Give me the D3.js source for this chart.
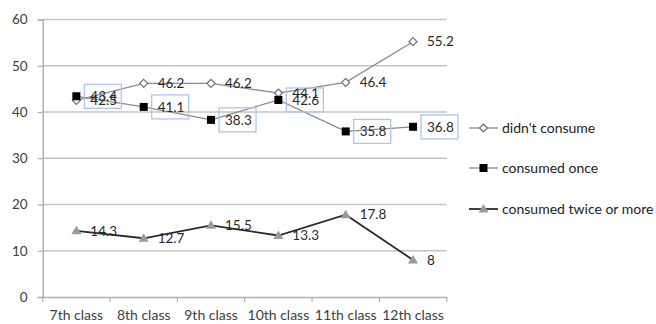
<!DOCTYPE html>
<html>
<head>
<meta charset="utf-8">
<script src="https://cdn.jsdelivr.net/npm/d3@7"></script>
<style>
  html, body { margin: 0; padding: 0; background: #fff; }
  svg text { font-family: Lato, "Open Sans", "Liberation Sans", sans-serif; }
</style>
</head>
<body>
<svg id="chart" width="656" height="324"></svg>
<script>
// Chart data
const categories = ["7th class", "8th class", "9th class", "10th class", "11th class", "12th class"];
const didntConsume = [42.5, 46.2, 46.2, 44.1, 46.4, 55.2];
const consumedOnce = [43.4, 41.1, 38.3, 42.6, 35.8, 36.8];
const consumedTwice = [14.3, 12.7, 15.5, 13.3, 17.8, 8];
const yTicks = [0, 10, 20, 30, 40, 50, 60];
const seriesNames = ["didn't consume", "consumed once", "consumed twice or more"];

const series = [
  { name: seriesNames[0], values: didntConsume, line: "#8c8c8c", lineWidth: 1.3, marker: "diamond", boxed: false },
  { name: seriesNames[1], values: consumedOnce, line: "#8a8a8a", lineWidth: 1.3, marker: "square", boxed: true },
  { name: seriesNames[2], values: consumedTwice, line: "#2a2a2a", lineWidth: 1.8, marker: "triangle", boxed: false }
];

const svg = d3.select("#chart");
const plot = { left: 42.7, right: 446.7, top: 19.5, bottom: 297 };

const x = d3.scaleBand().domain(categories).range([plot.left, plot.right]).paddingInner(0).paddingOuter(0);
const y = d3.scaleLinear().domain([0, 60]).range([plot.bottom, plot.top]);
const cx = d => x(d) + x.bandwidth() / 2;

// Horizontal gridlines
svg.append("g")
  .selectAll("line")
  .data(yTicks.filter(t => t > 0))
  .join("line")
  .attr("x1", plot.left).attr("x2", plot.right)
  .attr("y1", d => y(d)).attr("y2", d => y(d))
  .attr("stroke", "#c4c4c4").attr("stroke-width", 1.5);

// Y axis
const yAxis = svg.append("g")
  .attr("transform", `translate(${plot.left},0)`)
  .call(d3.axisLeft(y).tickValues(yTicks).tickSize(5).tickPadding(10).tickFormat(d3.format("d")));
yAxis.select(".domain").attr("stroke", "#b0b0b0").attr("stroke-width", 1.5);
yAxis.selectAll(".tick line").attr("stroke", "#b0b0b0").attr("stroke-width", 1.2);
yAxis.selectAll(".tick text").attr("fill", "#404040").style("font-size", "13.5px");

// X axis
const xAxis = svg.append("g")
  .attr("transform", `translate(0,${plot.bottom})`)
  .call(d3.axisBottom(x).tickSize(0).tickPadding(13));
xAxis.select(".domain").attr("stroke", "#b0b0b0").attr("stroke-width", 1.5);
xAxis.selectAll(".tick text").attr("fill", "#404040").style("font-size", "14px");
// Category boundary ticks
svg.append("g")
  .selectAll("line")
  .data(d3.range(categories.length + 1))
  .join("line")
  .attr("x1", i => plot.left + i * x.bandwidth())
  .attr("x2", i => plot.left + i * x.bandwidth())
  .attr("y1", plot.bottom).attr("y2", plot.bottom + 5)
  .attr("stroke", "#b0b0b0").attr("stroke-width", 1.2);

// Marker drawing
function drawMarker(g, type, px, py) {
  if (type === "diamond") {
    g.append("path")
      .attr("d", `M${px},${py - 4}L${px + 4},${py}L${px},${py + 4}L${px - 4},${py}Z`)
      .attr("fill", "#fff").attr("stroke", "#6e6e6e").attr("stroke-width", 1.2);
  } else if (type === "square") {
    g.append("rect")
      .attr("x", px - 4).attr("y", py - 4).attr("width", 8).attr("height", 8)
      .attr("fill", "#000");
  } else {
    g.append("path")
      .attr("d", `M${px},${py - 5}L${px + 5},${py + 3.5}L${px - 5},${py + 3.5}Z`)
      .attr("fill", "#9a9a9a");
  }
}

const line = d3.line().x((d, i) => cx(categories[i])).y(d => y(d));

// Lines, markers
series.forEach(s => {
  const g = svg.append("g");
  g.append("path")
    .attr("d", line(s.values))
    .attr("fill", "none").attr("stroke", s.line).attr("stroke-width", s.lineWidth);
  s.values.forEach((v, i) => drawMarker(g, s.marker, cx(categories[i]), y(v)));
});

// Value labels
series.forEach(s => {
  const g = svg.append("g");
  s.values.forEach((v, i) => {
    const px = cx(categories[i]), py = y(v);
    if (s.boxed) {
      g.append("rect")
        .attr("x", px + 8).attr("y", py - 12)
        .attr("width", 37).attr("height", 24)
        .attr("fill", "none").attr("stroke", "#aec4ec").attr("stroke-width", 1.3);
    }
    g.append("text")
      .attr("x", px + 14).attr("y", py)
      .attr("dy", "0.35em")
      .attr("fill", "#2a2a2a")
      .style("font-size", "13.5px")
      .text(v);
  });
});

// Legend
const legend = svg.append("g");
const legendRows = [128, 168, 209];
series.forEach((s, i) => {
  const ly = legendRows[i];
  legend.append("line")
    .attr("x1", 469).attr("x2", 498).attr("y1", ly).attr("y2", ly)
    .attr("stroke", s.line).attr("stroke-width", s.lineWidth);
  drawMarker(legend, s.marker, 483.5, ly);
  legend.append("text")
    .attr("x", 502).attr("y", ly).attr("dy", "0.35em")
    .attr("fill", "#222").style("font-size", "14px")
    .text(s.name);
});
</script>
</body>
</html>
